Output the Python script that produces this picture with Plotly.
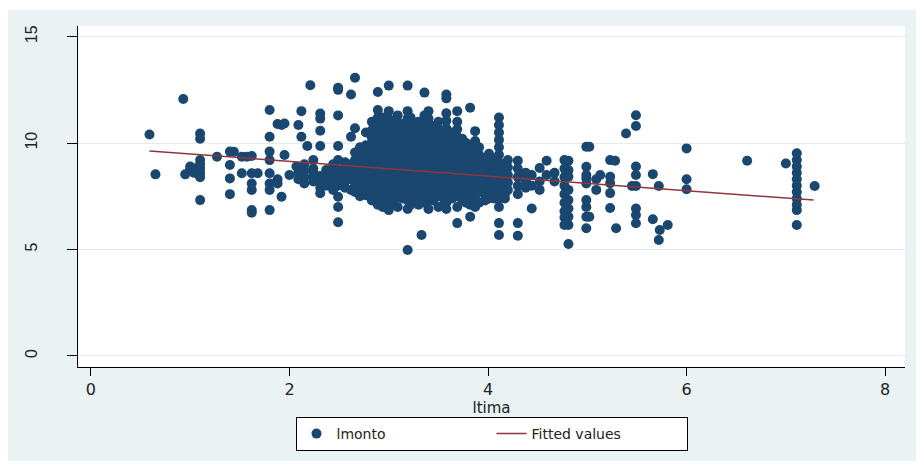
import plotly.graph_objects as go

# ---- data ----
ltima_levels = [
    0.59, 0.65, 0.93, 0.95, 1.0, 1.04, 1.1, 1.27, 1.4, 1.44, 1.52, 1.57, 1.62, 1.68,
    1.8, 1.88, 1.92, 1.95, 2.0, 2.07, 2.09, 2.12, 2.15, 2.18, 2.21, 2.24, 2.31, 2.37,
    2.44, 2.49, 2.56, 2.62, 2.66, 2.71, 2.77, 2.83, 2.89, 2.94, 3.0, 3.04, 3.09, 3.14,
    3.19, 3.22, 3.26, 3.30, 3.33, 3.36, 3.40, 3.45, 3.50, 3.56, 3.58, 3.64, 3.69, 3.74,
    3.78, 3.82, 3.87, 3.91, 3.97, 4.01, 4.06, 4.11, 4.17, 4.2, 4.3, 4.38, 4.44, 4.52,
    4.59, 4.67, 4.77, 4.81, 4.99, 5.02, 5.09, 5.13, 5.23, 5.28, 5.29, 5.39, 5.45, 5.49,
    5.66, 5.72, 5.73, 5.81, 6.0, 6.61, 7.0, 7.11, 7.29,
]

lmonto_by_level = [
    [10.4],
    [8.53],
    [12.07],
    [8.53],
    [8.9, 8.75],
    [8.8, 8.6],
    [10.45, 10.2, 9.2, 9.0, 8.8, 8.6, 8.4, 7.32],
    [9.36],
    [9.6, 8.97, 8.34, 7.6],
    [9.59],
    [9.36, 8.58],
    [9.36],
    [9.39, 8.58, 8.1, 7.8, 6.85, 6.73],
    [8.58],
    [11.55, 10.3, 9.6, 9.2, 8.58, 8.1, 7.8, 6.85],
    [10.9, 8.3, 8.1],
    [10.85, 7.48],
    [10.92, 9.44],
    [8.5],
    [8.9],
    [10.85, 8.6, 8.3],
    [11.5, 10.3],
    [9.0, 8.7, 8.4, 8.1],
    [9.86],
    [12.72],
    [9.2, 8.8, 8.6, 8.4, 8.2],
    [11.39, 11.15, 10.58, 9.86, 8.45, 8.2, 7.9, 7.64],
    [8.73, 8.5, 8.3, 8.0],
    [9.0, 8.7, 8.4, 8.1, 7.8],
    [12.6, 12.5, 11.3, 9.86, 9.2, 8.73, 8.4, 8.0, 7.48, 7.0, 6.28],
    [9.1, 8.8, 8.5, 8.2, 7.9],
    [12.28, 10.3, 9.0, 8.6, 8.3, 7.8],
    [13.07, 10.7, 9.56, 9.2, 8.9, 8.5, 8.1, 7.7],
    [9.8, 9.45, 9.1, 8.75, 8.4, 8.05, 7.7, 7.5],
    [10.5, 9.9, 9.55, 9.2, 8.85, 8.5, 8.15, 7.8, 7.55],
    [11.0, 10.6, 10.25, 9.9, 9.55, 9.2, 8.85, 8.5, 8.15, 7.8, 7.45, 7.3],
    [12.4, 11.55, 11.2, 10.85, 10.5, 10.15, 9.8, 9.45, 9.1, 8.75, 8.4, 8.05, 7.7, 7.35, 7.1],
    [11.2, 10.85, 10.5, 10.15, 9.8, 9.45, 9.1, 8.75, 8.4, 8.05, 7.7, 7.35, 7.0],
    [12.7, 11.5, 11.15, 10.8, 10.45, 10.1, 9.75, 9.4, 9.05, 8.7, 8.35, 8.0, 7.65, 7.3, 6.85],
    [11.0, 10.65, 10.3, 9.95, 9.6, 9.25, 8.9, 8.55, 8.2, 7.85, 7.5, 7.2],
    [11.3, 10.95, 10.6, 10.25, 9.9, 9.55, 9.2, 8.85, 8.5, 8.15, 7.8, 7.45, 7.0],
    [10.9, 10.55, 10.2, 9.85, 9.5, 9.15, 8.8, 8.45, 8.1, 7.75, 7.4],
    [12.7, 11.5, 11.15, 10.8, 10.45, 10.1, 9.75, 9.4, 9.05, 8.7, 8.35, 8.0, 7.65, 7.3, 6.9, 4.98],
    [11.2, 10.85, 10.5, 10.15, 9.8, 9.45, 9.1, 8.75, 8.4, 8.05, 7.7, 7.35, 7.1],
    [10.5, 10.15, 9.8, 9.45, 9.1, 8.75, 8.4, 8.05, 7.7, 7.35],
    [11.0, 10.65, 10.3, 9.95, 9.6, 9.25, 8.9, 8.55, 8.2, 7.85, 7.5, 7.1],
    [5.68],
    [12.37, 11.3, 10.95, 10.6, 10.25, 9.9, 9.55, 9.2, 8.85, 8.5, 8.15, 7.8, 7.45, 7.2],
    [11.5, 11.15, 10.8, 10.45, 10.1, 9.75, 9.4, 9.05, 8.7, 8.35, 8.0, 7.65, 7.3, 6.9],
    [10.8, 10.45, 10.1, 9.75, 9.4, 9.05, 8.7, 8.35, 8.0, 7.65, 7.3],
    [11.0, 10.65, 10.3, 9.95, 9.6, 9.25, 8.9, 8.55, 8.2, 7.85, 7.5, 7.0],
    [10.6, 10.25, 9.9, 9.55, 9.2, 8.85, 8.5, 8.15, 7.8, 7.45, 7.3],
    [12.28, 12.1, 11.4, 11.05, 10.7, 10.35, 10.0, 9.65, 9.3, 8.95, 8.6, 8.25, 7.9, 7.55, 7.2, 6.9],
    [10.5, 10.15, 9.8, 9.45, 9.1, 8.75, 8.4, 8.05, 7.7, 7.4],
    [11.5, 11.0, 10.65, 10.3, 9.95, 9.6, 9.25, 8.9, 8.55, 8.2, 7.85, 7.5, 7.0, 6.24],
    [10.2, 9.85, 9.5, 9.15, 8.8, 8.45, 8.1, 7.75, 7.3],
    [10.0, 9.65, 9.3, 8.95, 8.6, 8.25, 7.9, 7.55, 7.2],
    [11.66, 9.8, 9.45, 9.1, 8.75, 8.4, 8.05, 7.7, 7.35, 7.1, 6.54],
    [10.56, 10.1, 9.6, 9.25, 8.9, 8.55, 8.2, 7.85, 7.5, 7.0],
    [9.8, 9.45, 9.1, 8.75, 8.4, 8.05, 7.7, 7.2],
    [9.3, 8.95, 8.6, 8.25, 7.9, 7.55, 7.3],
    [9.5, 9.15, 8.8, 8.45, 8.1, 7.75, 7.4],
    [9.2, 8.85, 8.5, 8.15, 7.8, 7.4],
    [11.2, 10.85, 10.5, 10.15, 9.8, 9.45, 9.1, 8.75, 8.4, 8.05, 7.7, 7.35, 7.0, 6.24, 5.68],
    [9.0, 8.65, 8.3, 7.95, 7.6, 7.4],
    [9.2, 8.85, 8.5, 8.15, 7.8],
    [9.17, 8.8, 8.4, 8.0, 7.6, 6.24, 5.65],
    [8.6, 8.25, 7.9],
    [8.5, 8.0, 6.93],
    [8.83, 8.2, 7.8],
    [9.17, 8.5],
    [8.6, 8.2],
    [9.2, 8.8, 8.4, 8.0, 7.6, 7.2, 6.8, 6.5, 6.15],
    [9.17, 8.73, 8.42, 7.8, 7.32, 6.93, 6.54, 6.15, 5.26],
    [9.83, 8.89, 8.5, 8.34, 8.1, 7.32, 7.0, 6.54, 6.0],
    [9.83, 6.54],
    [8.3, 7.8],
    [8.5],
    [9.2, 8.42, 8.12, 7.65, 6.95],
    [9.17],
    [6.0],
    [10.45],
    [7.98],
    [11.31, 10.8, 8.9, 8.5, 7.98, 6.93, 6.62, 6.23],
    [8.54, 6.42],
    [7.98, 5.45],
    [5.92],
    [6.15],
    [9.75, 8.3, 7.83],
    [9.17],
    [9.04],
    [9.52, 9.2, 8.9, 8.6, 8.3, 8.0, 7.7, 7.4, 7.1, 6.85, 6.15],
    [7.98],
]

fit_x = [0.59, 7.28]
fit_y = [9.63, 7.32]

x_ticks = [0, 2, 4, 6, 8]
y_ticks = [0, 5, 10, 15]

# ---- build scatter arrays from the columns ----
ltima = []
lmonto = []
for xv, ys in zip(ltima_levels, lmonto_by_level):
    for yv in ys:
        ltima.append(xv)
        lmonto.append(yv)

NAVY = "#1A476F"
MAROON = "#90353B"
BG = "#EAF2F3"
WIDE = "DejaVu Sans, Verdana, sans-serif"

fig = go.Figure()
fig.add_trace(go.Scatter(
    x=ltima, y=lmonto, mode="markers", name="lmonto",
    marker=dict(color=NAVY, size=10, line=dict(width=0)),
))
fig.add_trace(go.Scatter(
    x=fit_x, y=fit_y, mode="lines", name="Fitted values",
    line=dict(color=MAROON, width=1.5),
))

L, R, T, B = 78, 16, 26, 97
W, H = 921, 464
pw, ph = W - L - R, H - T - B

def px_to_paper_x(px):
    return (px - L) / pw

def px_to_paper_y(py):
    return (H - B - py) / ph

fig.update_layout(
    width=W, height=H,
    margin=dict(l=L, r=R, t=T, b=B, pad=0),
    paper_bgcolor="white",
    plot_bgcolor="white",
    font=dict(family="Liberation Sans, Arial, sans-serif", color="#000000", size=14),
    showlegend=True,
    legend=dict(
        orientation="h",
        x=0.5, xanchor="center",
        y=px_to_paper_y(417), yanchor="top",
        bgcolor="white", bordercolor="#000000", borderwidth=1,
        font=dict(size=14, color="#222222", family=WIDE),
        entrywidth=150,
    ),
    shapes=[
        dict(type="rect", xref="paper", yref="paper", layer="below",
             x0=px_to_paper_x(8), x1=px_to_paper_x(916),
             y0=px_to_paper_y(461), y1=px_to_paper_y(10),
             fillcolor=BG, line=dict(width=0)),
        dict(type="rect", xref="paper", yref="paper", layer="below",
             x0=0, x1=1, y0=0, y1=1,
             fillcolor="white", line=dict(width=0)),
    ],
    xaxis=dict(
        range=[-0.13, 8.2], tickvals=x_ticks, ticks="outside", ticklen=8,
        tickwidth=1, tickcolor="#000000",
        showline=True, linecolor="#000000", linewidth=1,
        showgrid=False, zeroline=False,
        tickfont=dict(size=16, color="#222222", family=WIDE),
        title=dict(text="ltima", font=dict(size=15, color="#222222", family=WIDE), standoff=0),
    ),
    yaxis=dict(
        range=[-0.52, 15.5], tickvals=y_ticks, ticks="outside", ticklen=10,
        tickwidth=1, tickcolor="#000000",
        showline=True, linecolor="#000000", linewidth=1,
        showgrid=True, gridcolor="#E3EBEE", gridwidth=1, zeroline=False,
        tickangle=-90, ticklabelstandoff=24,
        tickfont=dict(size=16, color="#222222"),
    ),
)

fig.write_html("out.html")
